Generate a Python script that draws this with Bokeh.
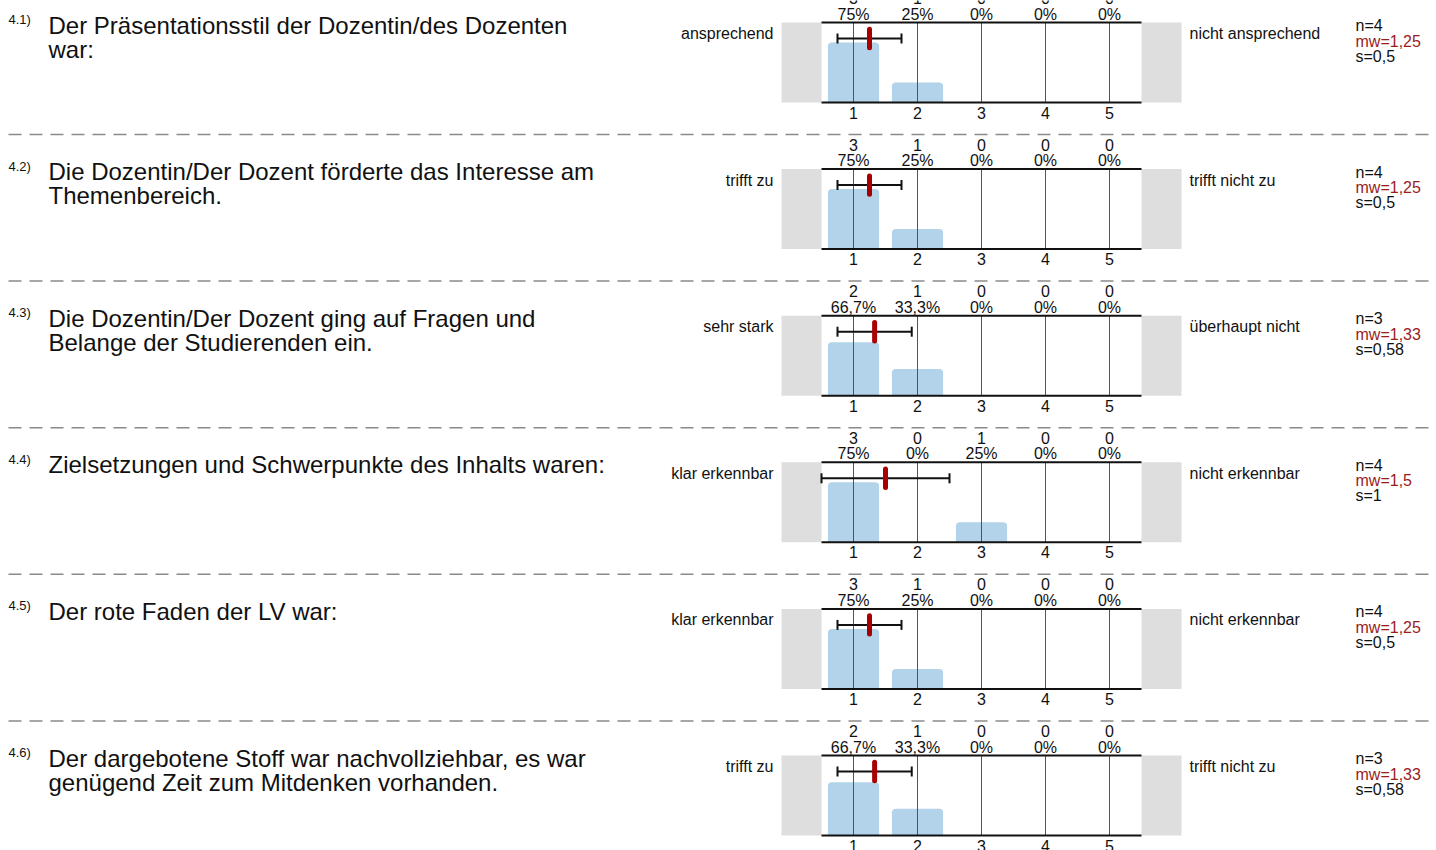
from bokeh.plotting import figure
from bokeh.models import Range1d
from bokeh.core.properties import value
from bokeh.embed import file_html
from bokeh.resources import INLINE

# ---------------- data ----------------
numbers = ["4.1)", "4.2)", "4.3)", "4.4)", "4.5)", "4.6)"]
questions = [
    ["Der Präsentationsstil der Dozentin/des Dozenten", "war:"],
    ["Die Dozentin/Der Dozent förderte das Interesse am", "Themenbereich."],
    ["Die Dozentin/Der Dozent ging auf Fragen und", "Belange der Studierenden ein."],
    ["Zielsetzungen und Schwerpunkte des Inhalts waren:"],
    ["Der rote Faden der LV war:"],
    ["Der dargebotene Stoff war nachvollziehbar, es war", "genügend Zeit zum Mitdenken vorhanden."],
]
left_labels = ["ansprechend", "trifft zu", "sehr stark", "klar erkennbar", "klar erkennbar", "trifft zu"]
right_labels = ["nicht ansprechend", "trifft nicht zu", "überhaupt nicht", "nicht erkennbar",
                "nicht erkennbar", "trifft nicht zu"]
scale = [1, 2, 3, 4, 5]
counts = [
    [3, 1, 0, 0, 0],
    [3, 1, 0, 0, 0],
    [2, 1, 0, 0, 0],
    [3, 0, 1, 0, 0],
    [3, 1, 0, 0, 0],
    [2, 1, 0, 0, 0],
]
n_vals = [4, 4, 3, 4, 4, 3]
mw_vals = [1.25, 1.25, 1.33, 1.5, 1.25, 1.33]
s_vals = [0.5, 0.5, 0.58, 1, 0.5, 0.58]

# ---------------- layout constants ----------------
FONT = value("Liberation Sans")
W, H = 1436, 850
ORIGIN = 0
ROW0, ROWSTEP = 22.0, 146.6
BOX_H = 80.0
PX_PER_UNIT = BOX_H / 100.0
TICK1_X, STEP = 853.0, 64.0

def de(v):
    s = ("%.2f" % v).rstrip("0").rstrip(".")
    return s.replace(".", ",")

def pct_label(c, n):
    p = c / n * 100
    if abs(p - round(p)) < 1e-9:
        return "%d%%" % round(p)
    return ("%.1f%%" % p).replace(".", ",")

x_start = 1 + (ORIGIN - TICK1_X) / STEP
x_end = 1 + (ORIGIN + W - TICK1_X) / STEP

p = figure(width=W, height=H, x_range=Range1d(x_start, x_end), y_range=Range1d(ORIGIN + H, ORIGIN),
           output_backend="svg", toolbar_location=None, min_border=0,
           x_axis_location=None, y_axis_location=None)
p.xgrid.visible = False
p.ygrid.visible = False
p.outline_line_color = None
p.background_fill_color = "white"
p.border_fill_color = "white"
p.extra_x_ranges = {"px": Range1d(ORIGIN, ORIGIN + W)}

BAR_COLOR = "#b3d3ea"
VLINE_COLOR = "#1f5fa8"
GRAY = "#dedede"
RED = "#a80000"
STAT_RED = "#9a1c1c"
TXT = "#111111"

for i in range(len(numbers)):
    top = ROW0 + i * ROWSTEP
    bot = top + BOX_H
    rn = "r%d" % i
    p.extra_y_ranges[rn] = Range1d((bot - (ORIGIN + H)) / PX_PER_UNIT, (bot - ORIGIN) / PX_PER_UNIT)

    def vy(page_y):
        return (bot - page_y) / PX_PER_UNIT

    # gray side boxes
    gw = 40.0 / STEP
    p.quad(left=[0.5 - gw, 5.5], right=[0.5, 5.5 + gw], bottom=[0, 0], top=[100, 100],
           fill_color=GRAY, line_color=None, y_range_name=rn)

    # bars
    n = n_vals[i]
    pcts = [c / n * 100 for c in counts[i]]
    p.vbar(x=scale, width=0.8, bottom=0, top=pcts, fill_color=BAR_COLOR, line_color=None,
           border_radius=(4, 4, 0, 0), y_range_name=rn)

    # vertical scale lines
    p.segment(x0=scale, x1=scale, y0=[0] * 5, y1=[100] * 5, line_color=VLINE_COLOR,
              line_width=1, y_range_name=rn)
    # top / bottom black lines
    p.segment(x0=[0.5, 0.5], x1=[5.5, 5.5], y0=[0, 100], y1=[0, 100], line_color="#111111",
              line_width=2, y_range_name=rn)

    # error bar (mean +/- s)
    m, s = mw_vals[i], s_vals[i]
    ey = 80
    cap = 6.25
    p.segment(x0=[m - s], x1=[m + s], y0=[ey], y1=[ey], line_color="#111111", line_width=2,
              y_range_name=rn)
    p.segment(x0=[m - s, m + s], x1=[m - s, m + s], y0=[ey - cap] * 2, y1=[ey + cap] * 2,
              line_color="#111111", line_width=2, y_range_name=rn)
    p.segment(x0=[m], x1=[m], y0=[ey - 11.5], y1=[ey + 11.5], line_color=RED, line_width=5,
              line_cap="round", y_range_name=rn)

    # count / percent labels above, tick labels below
    p.text(x=scale, y=[vy(top - 24.5)] * 5, text=[str(c) for c in counts[i]],
           text_font=FONT, text_font_size="16px", text_align="center",
           text_baseline="middle", text_color=TXT, y_range_name=rn)
    p.text(x=scale, y=[vy(top - 8.5)] * 5,
           text=[pct_label(c, n) for c in counts[i]],
           text_font=FONT, text_font_size="16px", text_align="center",
           text_baseline="middle", text_color=TXT, y_range_name=rn)
    p.text(x=scale, y=[vy(bot + 10)] * 5, text=[str(v) for v in scale],
           text_font=FONT, text_font_size="16px", text_align="center",
           text_baseline="middle", text_color=TXT, y_range_name=rn)

    # question number and text
    p.text(x=[8], y=[top - 3], text=[numbers[i]], text_font=FONT, text_font_size="13px",
           text_align="left", text_baseline="middle", text_color=TXT, x_range_name="px")
    qlines = questions[i]
    p.text(x=[48] * len(qlines), y=[top + 2.5 + 24 * k for k in range(len(qlines))], text=qlines,
           text_font=FONT, text_font_size="24px", text_align="left",
           text_baseline="middle", text_color=TXT, x_range_name="px")

    # pole labels
    p.text(x=[773], y=[top + 11], text=[left_labels[i]], text_font=FONT, text_font_size="16px",
           text_align="right", text_baseline="middle", text_color=TXT, x_range_name="px")
    p.text(x=[1189], y=[top + 11], text=[right_labels[i]], text_font=FONT, text_font_size="16px",
           text_align="left", text_baseline="middle", text_color=TXT, x_range_name="px")

    # stats
    p.text(x=[1355, 1355, 1355], y=[top + 3, top + 18.5, top + 33.5],
           text=["n=%d" % n, "mw=%s" % de(m), "s=%s" % de(s)],
           text_color=[TXT, STAT_RED, TXT],
           text_font=FONT, text_font_size="16px", text_align="left",
           text_baseline="middle", x_range_name="px")

    # dashed separator
    if i < len(numbers) - 1:
        sep = top + 112
        p.segment(x0=[8], x1=[1440], y0=[sep], y1=[sep], line_color="#8a8a8a", line_width=1.5,
                  line_dash="13 8", x_range_name="px")

open("out.html", "w").write(file_html(p, INLINE))
